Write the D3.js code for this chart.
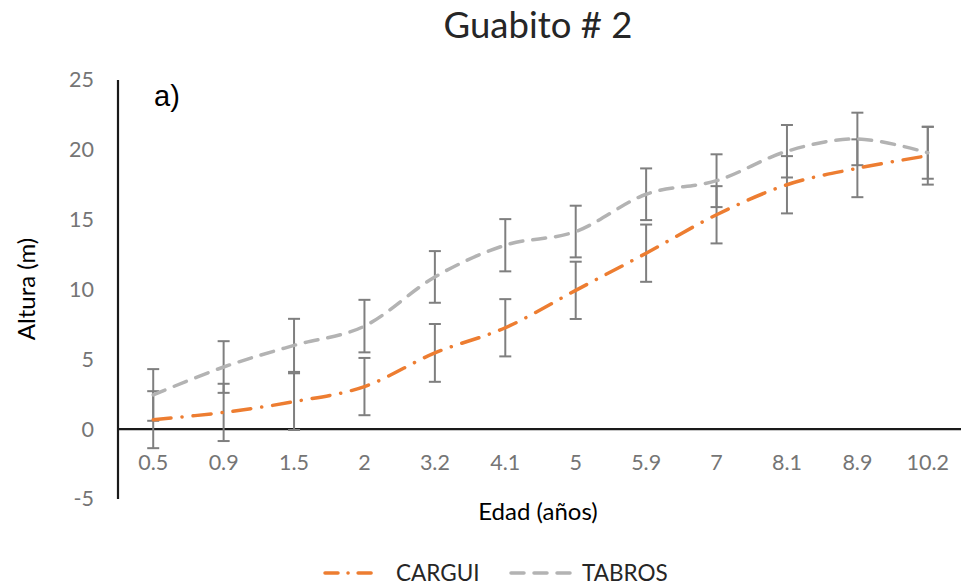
<!DOCTYPE html>
<html>
<head>
<meta charset="utf-8">
<script src="https://cdn.jsdelivr.net/npm/d3@7"></script>
<style>
  html, body { margin: 0; padding: 0; background: #fff; }
  svg { display: block; font-family: Lato, "Open Sans", sans-serif; }
</style>
</head>
<body>
<svg id="chart" width="961" height="588"></svg>
<script>
// Edad (años) categories on the x axis
const edades = ["0.5", "0.9", "1.5", "2", "3.2", "4.1", "5", "5.9", "7", "8.1", "8.9", "10.2"];

// Mean height (m) per age, CARGUI
const cargui = [0.68, 1.2, 1.97, 3.05, 5.46, 7.26, 9.94, 12.6, 15.35, 17.5, 18.68, 19.58];
const carguiErr = [2.04, 2.05, 2.03, 2.05, 2.07, 2.05, 2.05, 2.05, 2.05, 2.05, 2.07, 2.07];

// Mean height (m) per age, TABROS
const tabros = [2.45, 4.45, 6.0, 7.38, 10.9, 13.17, 14.15, 16.82, 17.79, 19.9, 20.78, 19.79];
const tabrosErr = [1.85, 1.85, 1.9, 1.88, 1.85, 1.87, 1.85, 1.85, 1.89, 1.88, 1.88, 1.86];

const yTicks = [-5, 0, 5, 10, 15, 20, 25];

const series = [
  { name: "CARGUI", values: cargui, err: carguiErr, color: "#ED7D31", dash: "18,11,0.1,11" },
  { name: "TABROS", values: tabros, err: tabrosErr, color: "#B3B3B3", dash: "13,10" }
];

const svg = d3.select("#chart");

const x = d3.scaleBand().domain(edades).range([118, 963]).padding(0);
const cx = d => x(d) + x.bandwidth() / 2;
const y = d3.scaleLinear().domain([-5, 25]).range([499, 80]);

// Title
svg.append("text")
  .attr("x", 538).attr("y", 38)
  .attr("text-anchor", "middle")
  .attr("font-size", 36.5)
  .attr("fill", "#262626")
  .text("Guabito # 2");

// Y axis (labels only, axis line drawn separately)
const yAxis = svg.append("g")
  .attr("transform", "translate(118,0)")
  .call(d3.axisLeft(y).tickValues(yTicks).tickSize(0).tickPadding(24).tickFormat(d => String(d)));
yAxis.select(".domain").remove();
yAxis.selectAll("text")
  .attr("font-size", 21.5)
  .attr("font-family", "Lato, sans-serif")
  .attr("fill", "#757575");

svg.append("line")
  .attr("x1", 118).attr("x2", 118)
  .attr("y1", y(25)).attr("y2", y(-5))
  .attr("stroke", "#1a1a1a").attr("stroke-width", 2.2);

// X axis along zero, labels below the plot
const xAxis = svg.append("g")
  .attr("transform", `translate(0,${y(0)})`)
  .call(d3.axisBottom(x).tickSize(0).tickPadding(26));
xAxis.select(".domain").remove();
xAxis.selectAll("text")
  .attr("font-size", 21.5)
  .attr("font-family", "Lato, sans-serif")
  .attr("fill", "#757575");

svg.append("line")
  .attr("x1", 118).attr("x2", 961)
  .attr("y1", y(0)).attr("y2", y(0))
  .attr("stroke", "#1a1a1a").attr("stroke-width", 2.2);

// "a)" panel tag
svg.append("text")
  .attr("x", 154).attr("y", 106)
  .attr("font-family", "Liberation Sans, Arial, sans-serif")
  .attr("font-size", 29)
  .attr("fill", "#000")
  .text("a)");

// Axis titles
svg.append("text")
  .attr("transform", "translate(35,289) rotate(-90)")
  .attr("text-anchor", "middle")
  .attr("font-size", 24)
  .attr("fill", "#000")
  .text("Altura (m)");

svg.append("text")
  .attr("x", 538).attr("y", 520)
  .attr("text-anchor", "middle")
  .attr("font-size", 24)
  .attr("fill", "#000")
  .text("Edad (años)");

// Smoothed series lines
const line = d3.line()
  .x((d, i) => cx(edades[i]))
  .y(d => y(d))
  .curve(d3.curveCatmullRom.alpha(0));

// Error bars (drawn per series, TABROS first so CARGUI bars sit on top)
const errColor = "#7f7f7f";
const capHalf = 6;
[series[1], series[0]].forEach(s => {
  const g = svg.append("g").attr("class", "err-" + s.name);
  s.values.forEach((v, i) => {
    const px = cx(edades[i]);
    const top = y(v + s.err[i]);
    const bot = y(v - s.err[i]);
    g.append("line").attr("x1", px).attr("x2", px).attr("y1", top).attr("y2", bot)
      .attr("stroke", errColor).attr("stroke-width", 2);
    g.append("line").attr("x1", px - capHalf).attr("x2", px + capHalf).attr("y1", top).attr("y2", top)
      .attr("stroke", errColor).attr("stroke-width", 2);
    g.append("line").attr("x1", px - capHalf).attr("x2", px + capHalf).attr("y1", bot).attr("y2", bot)
      .attr("stroke", errColor).attr("stroke-width", 2);
  });
});

series.forEach(s => {
  svg.append("path")
    .datum(s.values)
    .attr("d", line)
    .attr("fill", "none")
    .attr("stroke", s.color)
    .attr("stroke-width", 3.5)
    .attr("stroke-linecap", "round")
    .attr("stroke-dasharray", s.dash);
});

// Legend
const legend = [
  { s: series[0], x1: 325, x2: 379, tx: 396 },
  { s: series[1], x1: 511, x2: 575, tx: 582 }
];
legend.forEach(l => {
  svg.append("line")
    .attr("x1", l.x1).attr("x2", l.x2).attr("y1", 573).attr("y2", 573)
    .attr("stroke", l.s.color).attr("stroke-width", 3.5)
    .attr("stroke-linecap", "round")
    .attr("stroke-dasharray", l.s.name === "CARGUI" ? "13,10,0.1,10" : l.s.dash);
  svg.append("text")
    .attr("x", l.tx).attr("y", 581)
    .attr("font-size", 22.5)
    .attr("fill", "#262626")
    .text(l.s.name);
});
</script>
</body>
</html>
